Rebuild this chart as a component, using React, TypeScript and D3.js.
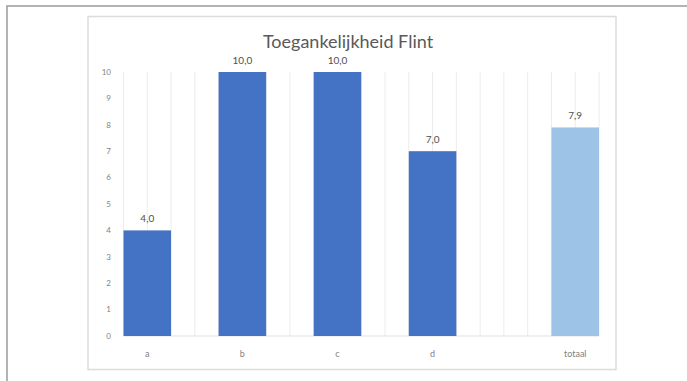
import React, { useEffect, useRef } from "react";
import * as d3 from "d3";

const categories = ["a", "b", "c", "d", "totaal"];
const values = [4.0, 10.0, 10.0, 7.0, 7.9];
const slots = [0, 1, 2, 3, 4.5];
const barColors = ["#4472C4", "#4472C4", "#4472C4", "#4472C4", "#9DC3E6"];
const yTicks = [0, 1, 2, 3, 4, 5, 6, 7, 8, 9, 10];
const title = "Toegankelijkheid Flint";

const W = 687;
const H = 381;

export default function App() {
  const ref = useRef<SVGSVGElement | null>(null);

  useEffect(() => {
    const svg = d3.select(ref.current);
    svg.selectAll("*").remove();

    // outer frame
    svg.append("rect").attr("x", 7).attr("y", 6).attr("width", W + 20).attr("height", H + 20)
      .attr("fill", "#fff").attr("stroke", "#9a9a9a").attr("stroke-width", 1.5);

    // chart box
    svg.append("rect").attr("x", 88).attr("y", 16.5).attr("width", 528).attr("height", 353)
      .attr("fill", "#fff").attr("stroke", "#dcdcdc").attr("stroke-width", 1.5);

    const x = d3.scaleLinear().domain([0, 5]).range([123.5, 599]);
    const y = d3.scaleLinear().domain([0, 10]).range([336, 72]);
    const barW = 0.5;

    // vertical gridlines every quarter slot
    const gridVals = d3.range(0, 5.0001, 0.25);
    svg.append("g").selectAll("line").data(gridVals).join("line")
      .attr("x1", (d) => x(d)).attr("x2", (d) => x(d))
      .attr("y1", y(10)).attr("y2", y(0))
      .attr("stroke", "#ececec").attr("stroke-width", 1);

    // baseline
    svg.append("line").attr("x1", x(0)).attr("x2", x(5)).attr("y1", y(0)).attr("y2", y(0))
      .attr("stroke", "#e0e0e0").attr("stroke-width", 1);

    // y tick labels
    svg.append("g").selectAll("text").data(yTicks).join("text")
      .attr("x", 111).attr("y", (d) => y(d)).attr("dy", "0.35em")
      .attr("text-anchor", "end").attr("font-family", "Lato, 'Open Sans', sans-serif")
      .attr("font-size", 8).attr("fill", "#7f7f7f").text((d) => String(d));

    const data = categories.map((c, i) => ({ c, v: values[i], s: slots[i], col: barColors[i] }));

    // bars
    svg.append("g").selectAll("rect").data(data).join("rect")
      .attr("x", (d) => x(d.s)).attr("width", x(barW) - x(0))
      .attr("y", (d) => y(d.v)).attr("height", (d) => y(0) - y(d.v))
      .attr("fill", (d) => d.col);

    // value labels
    svg.append("g").selectAll("text").data(data).join("text")
      .attr("x", (d) => x(d.s + barW / 2)).attr("y", (d) => y(d.v) - 8)
      .attr("text-anchor", "middle").attr("font-family", "Lato, 'Open Sans', sans-serif")
      .attr("font-size", 10).attr("fill", "#505050")
      .text((d) => d.v.toFixed(1).replace(".", ","));

    // title
    svg.append("text").attr("x", 348).attr("y", 42).attr("dy", "0.35em")
      .attr("text-anchor", "middle").attr("font-family", "Lato, 'Open Sans', sans-serif")
      .attr("font-size", 18).attr("fill", "#595959").text(title);

    // category labels
    svg.append("g").selectAll("text").data(data).join("text")
      .attr("x", (d) => x(d.s + barW / 2)).attr("y", 354).attr("dy", "0.35em")
      .attr("text-anchor", "middle").attr("font-family", "Lato, 'Open Sans', sans-serif")
      .attr("font-size", 9).attr("fill", "#7f7f7f").text((d) => d.c);
  }, []);

  return (
    <svg
      ref={ref}
      width={W}
      height={H}
      style={{ position: "absolute", left: 0, top: 0, background: "#fff" }}
    />
  );
}
